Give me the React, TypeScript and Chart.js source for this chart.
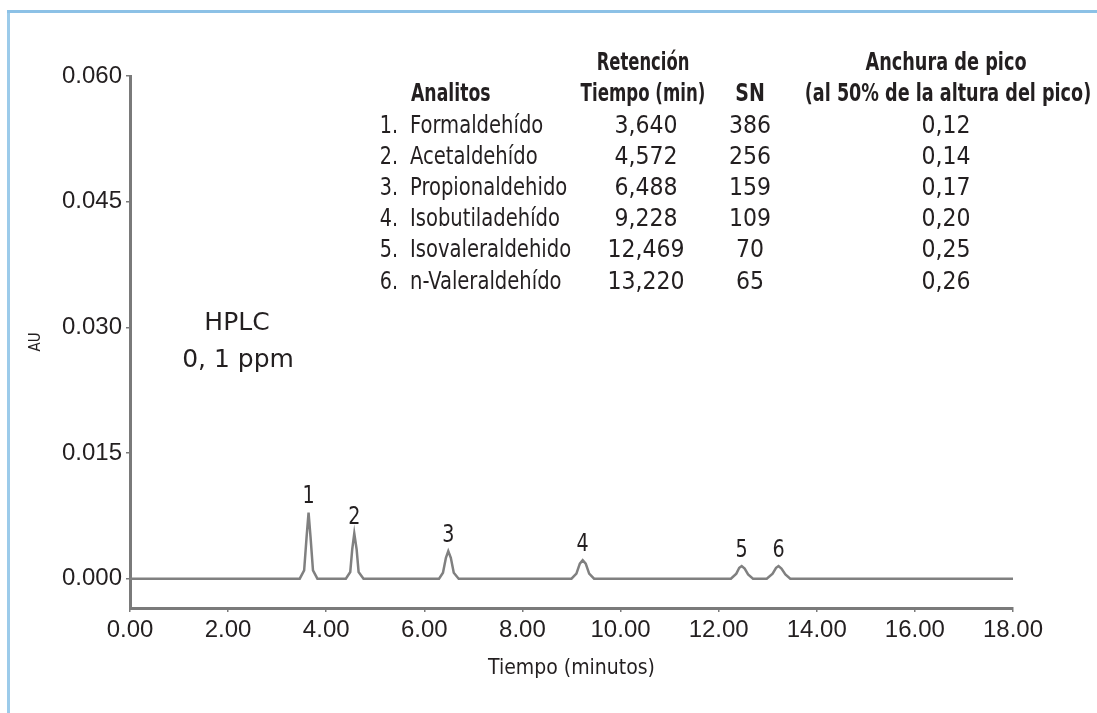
import React, { useEffect, useRef } from "react";
import { Chart, registerables } from "chart.js";

Chart.register(...registerables);

// ---- Data ----
const chromTime = [
  0, 3.46, 3.55, 3.6, 3.64, 3.68, 3.73, 3.82,
  4.4, 4.49, 4.53, 4.572, 4.62, 4.66, 4.76,
  6.3, 6.38, 6.44, 6.488, 6.54, 6.6, 6.7,
  9.0, 9.1, 9.17, 9.228, 9.29, 9.36, 9.46,
  12.25, 12.36, 12.42, 12.469, 12.53, 12.6, 12.7,
  12.98, 13.1, 13.17, 13.22, 13.28, 13.36, 13.46,
  18,
];
const chromAU = [
  0, 0, 0.001, 0.005, 0.0079, 0.005, 0.001, 0,
  0, 0.0008, 0.0035, 0.0054, 0.0035, 0.0008, 0,
  0, 0.0007, 0.0025, 0.0033, 0.0025, 0.0007, 0,
  0, 0.0006, 0.0018, 0.0022, 0.0018, 0.0006, 0,
  0, 0.0006, 0.0013, 0.0015, 0.0012, 0.0005, 0,
  0, 0.0006, 0.0013, 0.0015, 0.0012, 0.0005, 0,
  0,
];
const peakIds = ["1", "2", "3", "4", "5", "6"];
const peakTimes = [3.64, 4.572, 6.488, 9.228, 12.469, 13.22];
const peakHeights = [0.0079, 0.0054, 0.0033, 0.0022, 0.0015, 0.0015];

const analytes = [
  "Formaldehído",
  "Acetaldehído",
  "Propionaldehido",
  "Isobutiladehído",
  "Isovaleraldehido",
  "n-Valeraldehído",
];
const retentionTimes = ["3,640", "4,572", "6,488", "9,228", "12,469", "13,220"];
const snValues = ["386", "256", "159", "109", "70", "65"];
const peakWidths = ["0,12", "0,14", "0,17", "0,20", "0,25", "0,26"];

const xTicks = [0, 2, 4, 6, 8, 10, 12, 14, 16, 18];
const yTicks = [0, 0.015, 0.03, 0.045, 0.06];

// ---- Styling ----
const TEXT = "#231f20";
const AXIS = "#7a7a7a";
const NARROW = '"DejaVu Sans Condensed", "Liberation Sans", sans-serif';

function drawScaled(
  ctx: CanvasRenderingContext2D,
  text: string,
  x: number,
  y: number,
  align: CanvasTextAlign,
  sx: number
) {
  ctx.save();
  ctx.translate(x, y);
  ctx.scale(sx, 1);
  ctx.textAlign = align;
  ctx.fillText(text, 0, 0);
  ctx.restore();
}

const overlayPlugin = {
  id: "overlay",
  afterDatasetsDraw(chart: any) {
    const ctx = chart.ctx as CanvasRenderingContext2D;
    const xs = chart.scales.x;
    const ys = chart.scales.y;
    ctx.save();
    ctx.fillStyle = TEXT;
    ctx.font = `25px ${NARROW}`;
    ctx.textBaseline = "alphabetic";
    peakIds.forEach((id, i) => {
      const px = xs.getPixelForValue(peakTimes[i]);
      const py = ys.getPixelForValue(peakHeights[i]);
      drawScaled(ctx, id, px, py - 9, "center", 0.85);
    });
    ctx.restore();
  },
  afterDraw(chart: any) {
    const ctx = chart.ctx as CanvasRenderingContext2D;
    ctx.save();
    // frame lines
    ctx.fillStyle = "#9ccbea";
    ctx.fillRect(7, 10, 3, 713);
    ctx.fillStyle = "#8cc1e6";
    ctx.fillRect(7, 10, 1097, 3);

    // HPLC annotation
    ctx.fillStyle = TEXT;
    ctx.textBaseline = "middle";
    ctx.textAlign = "center";
    ctx.font = '25px "DejaVu Sans", sans-serif';
    ctx.fillText("HPLC", 237, 323);
    ctx.fillText("0, 1 ppm", 238, 360);

    // table headers
    ctx.font = `bold 24px ${NARROW}`;
    drawScaled(ctx, "Analitos", 411, 95, "left", 0.8);
    drawScaled(ctx, "Retención", 643, 64, "center", 0.76);
    drawScaled(ctx, "Tiempo (min)", 643, 95, "center", 0.77);
    drawScaled(ctx, "SN", 750, 95, "center", 0.88);
    drawScaled(ctx, "Anchura de pico", 946, 64, "center", 0.82);
    drawScaled(ctx, "(al 50% de la altura del pico)", 948, 95, "center", 0.815);

    // table rows
    ctx.font = `25px ${NARROW}`;
    const rowY0 = 126;
    const rowStep = 31.2;
    analytes.forEach((name, i) => {
      const y = rowY0 + i * rowStep;
      drawScaled(ctx, `${i + 1}.`, 398, y, "right", 0.85);
      drawScaled(ctx, name, 410, y, "left", 0.87);
      drawScaled(ctx, retentionTimes[i], 646, y, "center", 0.98);
      drawScaled(ctx, snValues[i], 750, y, "center", 0.98);
      drawScaled(ctx, peakWidths[i], 946, y, "center", 0.98);
    });
    ctx.restore();
  },
};

export default function App() {
  const canvasRef = useRef<HTMLCanvasElement | null>(null);

  useEffect(() => {
    const canvas = canvasRef.current;
    if (!canvas) return;
    const chart = new Chart(canvas, {
      type: "line",
      data: {
        datasets: [
          {
            data: chromTime.map((t, i) => ({ x: t, y: chromAU[i] })),
            borderColor: "#808080",
            borderWidth: 2.5,
            pointRadius: 0,
            tension: 0,
            fill: false,
          },
        ],
      },
      options: {
        animation: false,
        responsive: false,
        devicePixelRatio: 1,
        layout: { padding: { left: 0, right: 84, top: 76, bottom: 0 } },
        plugins: {
          legend: { display: false },
          tooltip: { enabled: false },
        },
        scales: {
          x: {
            type: "linear",
            min: 0,
            max: 18,
            afterBuildTicks: (s: any) => {
              s.ticks = xTicks.map((v) => ({ value: v }));
            },
            afterFit: (s: any) => {
              s.height = 105;
            },
            ticks: {
              color: TEXT,
              font: { family: '"Liberation Sans", sans-serif', size: 24 },
              padding: 4,
              maxRotation: 0,
              autoSkip: false,
              callback: (v: any) => Number(v).toFixed(2),
            },
            grid: {
              drawOnChartArea: false,
              drawTicks: true,
              tickLength: 4,
              color: AXIS,
              lineWidth: 1.5,
            },
            border: { display: true, color: AXIS, width: 3 },
            title: {
              display: true,
              text: "Tiempo (minutos)",
              color: TEXT,
              font: { family: NARROW, size: 21 },
              padding: { top: 0, bottom: 32 },
            },
          },
          y: {
            type: "linear",
            min: -0.0035,
            max: 0.06,
            afterBuildTicks: (s: any) => {
              s.ticks = yTicks.map((v) => ({ value: v }));
            },
            afterFit: (s: any) => {
              s.width = 130;
            },
            ticks: {
              color: TEXT,
              font: { family: '"Liberation Sans", sans-serif', size: 24 },
              padding: 4,
              callback: (v: any) => Number(v).toFixed(3),
            },
            grid: {
              drawOnChartArea: false,
              drawTicks: true,
              tickLength: 4,
              color: AXIS,
              lineWidth: 1.5,
            },
            border: { display: true, color: AXIS, width: 3 },
            title: {
              display: true,
              text: "AU",
              color: TEXT,
              font: { family: NARROW, size: 15 },
              padding: { top: 27, bottom: 0 },
            },
          },
        },
      },
      plugins: [overlayPlugin],
    });
    return () => chart.destroy();
  }, []);

  return (
    <div style={{ position: "fixed", left: 0, top: 0, width: 1097, height: 713, background: "#fff" }}>
      <canvas ref={canvasRef} width={1097} height={713} style={{ display: "block" }} />
    </div>
  );
}
